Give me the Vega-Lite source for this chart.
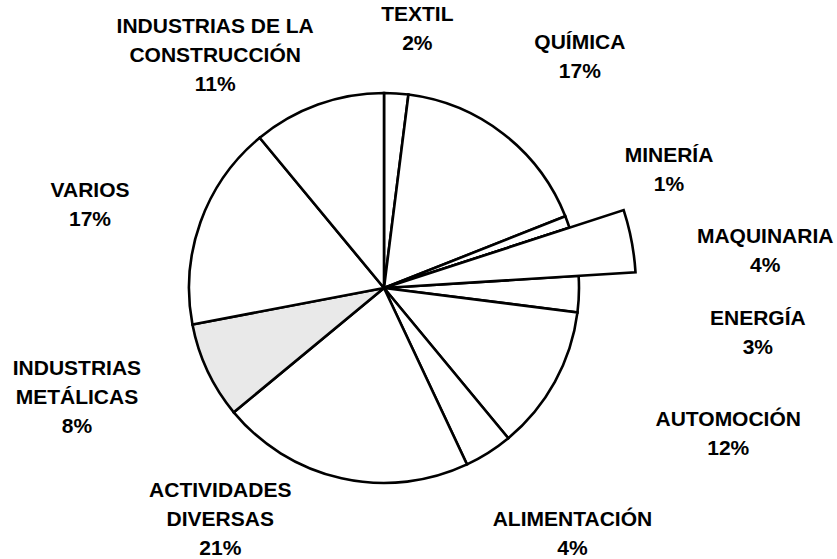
{
  "$schema": "https://vega.github.io/schema/vega-lite/v6.json",
  "width": 768,
  "height": 542,
  "autosize": {"type": "none"},
  "padding": {"left": 0, "top": 17, "right": 69, "bottom": 0},
  "background": "white",
  "config": {"view": {"stroke": null}},
  "data": {
    "values": [
      {"idx": 1, "sector": "TEXTIL", "label": "TEXTIL\n2%", "value": 2},
      {"idx": 2, "sector": "QUÍMICA", "label": "QUÍMICA\n17%", "value": 17},
      {"idx": 3, "sector": "MINERÍA", "label": "MINERÍA\n1%", "value": 1},
      {"idx": 4, "sector": "MAQUINARIA", "label": "MAQUINARIA\n4%", "value": 4},
      {"idx": 5, "sector": "ENERGÍA", "label": "ENERGÍA\n3%", "value": 3},
      {"idx": 6, "sector": "AUTOMOCIÓN", "label": "AUTOMOCIÓN\n12%", "value": 12},
      {"idx": 7, "sector": "ALIMENTACIÓN", "label": "ALIMENTACIÓN\n4%", "value": 4},
      {"idx": 8, "sector": "ACTIVIDADES DIVERSAS", "label": "ACTIVIDADES\nDIVERSAS\n21%", "value": 21},
      {"idx": 9, "sector": "INDUSTRIAS METÁLICAS", "label": "INDUSTRIAS\nMETÁLICAS\n8%", "value": 8},
      {"idx": 10, "sector": "VARIOS", "label": "VARIOS\n17%", "value": 17},
      {"idx": 11, "sector": "INDUSTRIAS DE LA CONSTRUCCIÓN", "label": "INDUSTRIAS DE LA\nCONSTRUCCIÓN\n11%", "value": 11}
    ]
  },
  "encoding": {
    "theta": {"field": "value", "type": "quantitative", "stack": true},
    "order": {"field": "idx", "type": "quantitative"}
  },
  "layer": [
    {
      "mark": {"type": "arc", "outerRadius": 195, "stroke": "black", "strokeWidth": 2.6},
      "encoding": {
        "fill": {"condition": {"test": "datum.sector === 'INDUSTRIAS METÁLICAS'", "value": "#e9e9e9"}, "value": "white"}
      }
    },
    {
      "mark": {"type": "arc", "outerRadius": 252, "stroke": "black", "strokeWidth": 2.6, "fill": "white"},
      "encoding": {
        "opacity": {"condition": {"test": "datum.sector === 'MAQUINARIA'", "value": 1}, "value": 0}
      }
    },
    {
      "mark": {"type": "text", "radius": 260, "dx": 17, "dy": -13.5, "font": "Liberation Sans", "fontSize": 21, "fontWeight": "bold", "lineBreak": "\n", "lineHeight": 29, "color": "black"},
      "encoding": {"text": {"condition": {"test": "datum.sector === 'TEXTIL'", "field": "label"}, "value": ""}}
    },
    {
      "mark": {"type": "text", "radius": 300, "dx": 12, "dy": -7.5, "font": "Liberation Sans", "fontSize": 21, "fontWeight": "bold", "lineBreak": "\n", "lineHeight": 29, "color": "black"},
      "encoding": {"text": {"condition": {"test": "datum.sector === 'QUÍMICA'", "field": "label"}, "value": ""}}
    },
    {
      "mark": {"type": "text", "radius": 305, "dx": -2, "dy": -28.5, "font": "Liberation Sans", "fontSize": 21, "fontWeight": "bold", "lineBreak": "\n", "lineHeight": 29, "color": "black"},
      "encoding": {"text": {"condition": {"test": "datum.sector === 'MINERÍA'", "field": "label"}, "value": ""}}
    },
    {
      "mark": {"type": "text", "radius": 385, "dx": 3, "dy": 21.5, "font": "Liberation Sans", "fontSize": 21, "fontWeight": "bold", "lineBreak": "\n", "lineHeight": 29, "color": "black"},
      "encoding": {"text": {"condition": {"test": "datum.sector === 'MAQUINARIA'", "field": "label"}, "value": ""}}
    },
    {
      "mark": {"type": "text", "radius": 375, "dx": -1, "dy": 19.5, "font": "Liberation Sans", "fontSize": 21, "fontWeight": "bold", "lineBreak": "\n", "lineHeight": 29, "color": "black"},
      "encoding": {"text": {"condition": {"test": "datum.sector === 'ENERGÍA'", "field": "label"}, "value": ""}}
    },
    {
      "mark": {"type": "text", "radius": 370, "dx": 20, "dy": -46.5, "font": "Liberation Sans", "fontSize": 21, "fontWeight": "bold", "lineBreak": "\n", "lineHeight": 29, "color": "black"},
      "encoding": {"text": {"condition": {"test": "datum.sector === 'AUTOMOCIÓN'", "field": "label"}, "value": ""}}
    },
    {
      "mark": {"type": "text", "radius": 305, "dx": 25, "dy": -25.5, "font": "Liberation Sans", "fontSize": 21, "fontWeight": "bold", "lineBreak": "\n", "lineHeight": 29, "color": "black"},
      "encoding": {"text": {"condition": {"test": "datum.sector === 'ALIMENTACIÓN'", "field": "label"}, "value": ""}}
    },
    {
      "mark": {"type": "text", "radius": 260, "dx": -107, "dy": -51, "font": "Liberation Sans", "fontSize": 21, "fontWeight": "bold", "lineBreak": "\n", "lineHeight": 29, "color": "black"},
      "encoding": {"text": {"condition": {"test": "datum.sector === 'ACTIVIDADES DIVERSAS'", "field": "label"}, "value": ""}}
    },
    {
      "mark": {"type": "text", "radius": 325, "dx": -13, "dy": -57, "font": "Liberation Sans", "fontSize": 21, "fontWeight": "bold", "lineBreak": "\n", "lineHeight": 29, "color": "black"},
      "encoding": {"text": {"condition": {"test": "datum.sector === 'INDUSTRIAS METÁLICAS'", "field": "label"}, "value": ""}}
    },
    {
      "mark": {"type": "text", "radius": 305, "dx": -7, "dy": 6.5, "font": "Liberation Sans", "fontSize": 21, "fontWeight": "bold", "lineBreak": "\n", "lineHeight": 29, "color": "black"},
      "encoding": {"text": {"condition": {"test": "datum.sector === 'VARIOS'", "field": "label"}, "value": ""}}
    },
    {
      "mark": {"type": "text", "radius": 280, "dx": -74, "dy": 2, "font": "Liberation Sans", "fontSize": 21, "fontWeight": "bold", "lineBreak": "\n", "lineHeight": 29, "color": "black"},
      "encoding": {"text": {"condition": {"test": "datum.sector === 'INDUSTRIAS DE LA CONSTRUCCIÓN'", "field": "label"}, "value": ""}}
    }
  ]
}
